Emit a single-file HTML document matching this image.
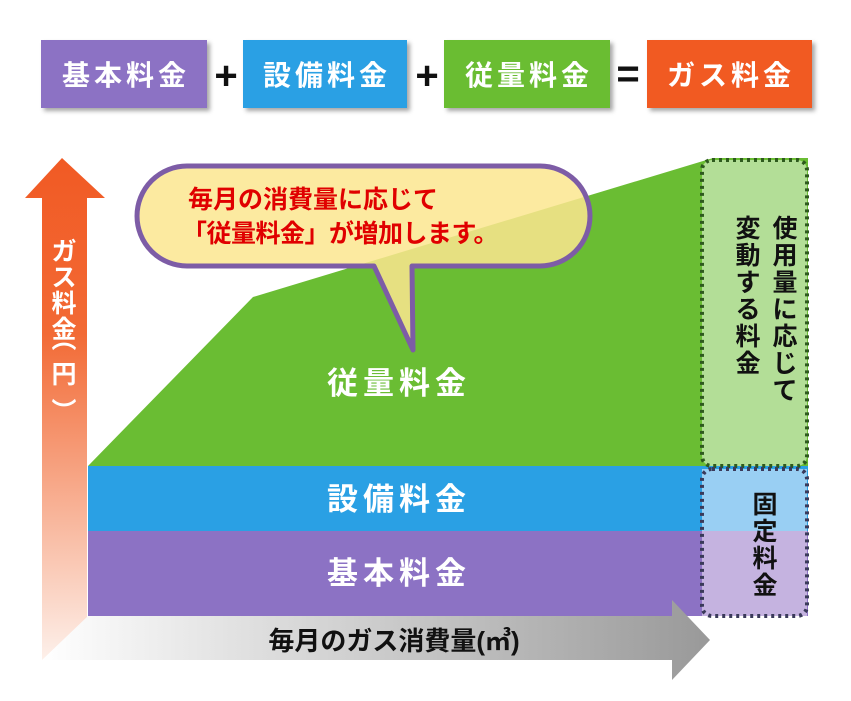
<!DOCTYPE html>
<html><head><meta charset="utf-8"><style>
html,body{margin:0;padding:0;background:#fff;}
svg{display:block;}
text{font-family:"Liberation Sans","Noto Sans CJK JP",sans-serif;font-weight:bold;}
</style></head><body>
<svg width="851" height="701" viewBox="0 0 851 701" xmlns="http://www.w3.org/2000/svg">
<defs>
<linearGradient id="vg" x1="0" y1="0" x2="0" y2="1">
<stop offset="0" stop-color="#f15a24"/><stop offset="0.35" stop-color="#f26a35"/><stop offset="1" stop-color="#fdf0ea"/>
</linearGradient>
<linearGradient id="hg" x1="0" y1="0" x2="1" y2="0">
<stop offset="0" stop-color="#ffffff"/><stop offset="1" stop-color="#999"/>
</linearGradient>
<filter id="sh" x="-10%" y="-10%" width="130%" height="130%"><feDropShadow dx="3" dy="3" stdDeviation="2" flood-color="#000" flood-opacity="0.35"/></filter>
</defs>
<g filter="url(#sh)">
<rect x="41" y="40" width="166" height="68" fill="#8c72c4"/>
<rect x="243" y="40" width="164" height="68" fill="#2aa0e4"/>
<rect x="444" y="40" width="166" height="68" fill="#6abd33"/>
<rect x="647" y="40" width="165" height="68" fill="#f15a24"/>
</g>
<g fill="#fff" font-size="28" text-anchor="middle" letter-spacing="4">
<text x="126" y="85">基本料金</text>
<text x="327" y="85">設備料金</text>
<text x="529" y="85">従量料金</text>
<text x="731" y="85">ガス料金</text>
</g>
<g fill="#111" font-size="40" text-anchor="middle">
<text x="226" y="89">+</text><text x="427" y="89">+</text><text x="628" y="87">=</text>
</g>
<polygon points="62,158 105,198 87,198 87,660 42,660 42,198 25,198" fill="url(#vg)"/>
<rect x="88" y="531" width="720" height="85" fill="#8c72c4"/>
<rect x="88" y="466" width="720" height="65" fill="#2aa0e4"/>
<polygon points="88,466 253,297 713,158 808,158 808,466" fill="#6abd33"/>
<polygon points="42,660 88,616 672,616 672,600 710,640 672,680 672,660" fill="url(#hg)"/>
<text x="394" y="650" font-size="26" fill="#111" text-anchor="middle">毎月のガス消費量(㎥)</text>
<rect x="702" y="160" width="105" height="306" rx="10" fill="#b3de97" stroke="#2e5a1e" stroke-width="4" stroke-dasharray="3,4"/>
<rect x="702" y="469" width="105" height="62" fill="#99cff3"/>
<rect x="702" y="531" width="105" height="85" fill="#c5b3e0"/>
<rect x="702" y="469" width="105" height="147" rx="10" fill="none" stroke="#3a3a5a" stroke-width="4" stroke-dasharray="3,4"/>
<g font-size="25" fill="#111" text-anchor="middle">
<text x="785" y="237">使</text><text x="785" y="264">用</text><text x="785" y="291">量</text><text x="785" y="318">に</text><text x="785" y="345">応</text><text x="785" y="372">じ</text><text x="785" y="399">て</text>
<text x="748" y="237">変</text><text x="748" y="264">動</text><text x="748" y="291">す</text><text x="748" y="318">る</text><text x="748" y="345">料</text><text x="748" y="372">金</text>
<text x="765" y="513">固</text><text x="765" y="540">定</text><text x="765" y="567">料</text><text x="765" y="594">金</text>
</g>
<g font-size="25" fill="#fff" text-anchor="middle">
<text x="64" y="260">ガ</text><text x="64" y="286">ス</text><text x="64" y="312">料</text><text x="64" y="338">金</text>
<text x="64" y="348">︵</text><text x="64" y="383">円</text><text x="64" y="420">︶</text>
</g>
<g font-size="31" fill="#fff" text-anchor="middle" letter-spacing="5">
<text x="399" y="394">従量料金</text>
<text x="399" y="510">設備料金</text>
<text x="399" y="584">基本料金</text>
</g>
<path d="M187,166 H540 A50,50 0 0 1 540,266 H412 L413,350 L374,266 H187 A50,50 0 0 1 187,166 Z" fill="#fbe68f" fill-opacity="0.85" stroke="#7d5ca6" stroke-width="5" stroke-linejoin="round"/>
<g font-size="25" fill="#e00000">
<text x="188" y="208">毎月の消費量に応じて</text>
<text x="182" y="242" letter-spacing="-0.5">「従量料金」が増加します。</text>
</g>
</svg>
</body></html>
